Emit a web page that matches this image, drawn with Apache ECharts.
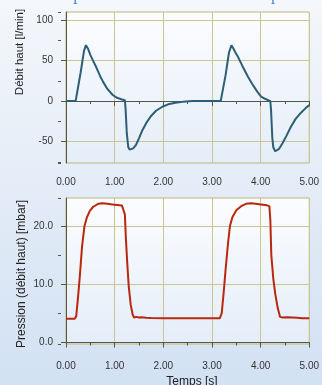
<!DOCTYPE html>
<html>
<head>
<meta charset="utf-8">
<script src="https://cdn.jsdelivr.net/npm/echarts@6/dist/echarts.min.js"></script>
<style>
html, body { margin: 0; padding: 0; }
#chart { width: 322px; height: 385px; background: linear-gradient(#f4f7fb, #d2e1f3); }
</style>
</head>
<body>
<div id="chart"></div>
<script>
// temps (s) et débit (l/min)
var flowTime = [0, 0.1, 0.2, 0.22, 0.3, 0.37, 0.41, 0.45, 0.5, 0.555, 0.62, 0.7, 0.76, 0.85, 0.96, 1.05, 1.15, 1.21,
  1.225, 1.25, 1.28, 1.31, 1.34, 1.38, 1.44, 1.5, 1.57, 1.65, 1.74, 1.85, 1.98, 2.1, 2.25, 2.4, 2.6, 2.8, 3.0, 3.18,
  3.2, 3.28, 3.35, 3.4, 3.44, 3.5, 3.54, 3.62, 3.74, 3.85, 3.95, 4.01, 4.1, 4.2,
  4.215, 4.24, 4.26, 4.3, 4.34, 4.38, 4.45, 4.53, 4.62, 4.72, 4.82, 4.92, 5.0]
var flowValues = [0, 0, 0.5, 1, 35, 62, 69, 65, 57, 50, 42, 31, 24, 15, 7.5, 4, 2, 1,
  -10, -40, -57, -60, -60, -58.5, -54, -46, -36, -27, -19, -12, -7, -4, -2, -1, 0, 0, 0, 0,
  0.5, 32, 60, 69, 65, 58, 54, 44, 30, 19, 10, 5.5, 2.5, 0,
  -12, -45, -57, -62, -62, -59, -52, -43, -32, -22, -15, -9, -5]

// temps (s) et pression (mbar)
var pressTime = [0, 0.18, 0.21, 0.25, 0.29, 0.33, 0.38, 0.43, 0.49, 0.56, 0.66, 0.75, 0.85, 0.95, 1.05, 1.15, 1.19,
  1.21, 1.23, 1.26, 1.29, 1.33, 1.37, 1.4, 1.45, 1.5, 1.55, 1.65, 1.75, 2.0, 2.5, 3.0, 3.16,
  3.2, 3.24, 3.28, 3.33, 3.37, 3.42, 3.5, 3.6, 3.7, 3.8, 3.9, 4.0, 4.1, 4.18,
  4.2, 4.22, 4.26, 4.3, 4.35, 4.4, 4.45, 4.55, 4.65, 4.75, 4.85, 5.0]
var pressValues = [4.1, 4.1, 4.5, 8, 12, 16.5, 20, 21.5, 22.6, 23.3, 23.8, 23.9, 23.8, 23.7, 23.6, 23.5, 23.4,
  22, 18, 13.5, 9.6, 6.5, 4.8, 4.3, 4.4, 4.3, 4.35, 4.25, 4.2, 4.15, 4.15, 4.15, 4.15,
  5, 8.5, 12.5, 17, 20, 21.5, 22.7, 23.4, 23.8, 23.9, 23.8, 23.7, 23.6, 23.4,
  21, 15, 11, 8.4, 6, 4.4, 4.3, 4.35, 4.3, 4.25, 4.15, 4.15]

var flowLabels = [-50, 0, 50, 100]
var flowMinor = [-75, -25, 25, 75]
var pressLabels = [0, 10, 20]
var pressMinor = [5, 15]

var gridCol = '#ccc493'
var axisCol = '#55554a'
var txtCol = '#333'
var font = 'Liberation Sans'

function pairs (t, v) {
  return t.map(function (x, i) { return [x, v[i]] })
}

function plotBg () {
  return new echarts.graphic.LinearGradient(0, 0, 0, 1, [
    { offset: 0, color: '#fcfdff' },
    { offset: 1, color: '#e4edf8' }
  ])
}

function timeAxis (grid, offset) {
  return {
    type: 'value',
    gridIndex: grid,
    min: 0,
    max: 5,
    interval: 1,
    offset: offset,
    axisLine: { show: true, lineStyle: { color: axisCol, width: 1 } },
    axisTick: { show: true, length: 5, lineStyle: { color: axisCol } },
    minorTick: { show: true, splitNumber: 2, length: 3, lineStyle: { color: axisCol } },
    axisLabel: {
      margin: 9,
      fontSize: 10,
      fontFamily: font,
      color: txtCol,
      formatter: function (v) { return v.toFixed(2) }
    },
    splitLine: { show: true, lineStyle: { color: gridCol, width: 1 } }
  }
}

function valueAxis (grid, min, max, labels, digits) {
  return {
    type: 'value',
    gridIndex: grid,
    position: 'left',
    min: min,
    max: max,
    offset: 5,
    axisLine: { show: true, lineStyle: { color: axisCol, width: 1 } },
    axisTick: { show: true, length: 5, customValues: labels, lineStyle: { color: axisCol } },
    axisLabel: {
      customValues: labels,
      margin: 8,
      fontSize: 10,
      fontFamily: font,
      color: txtCol,
      formatter: function (v) { return v.toFixed(digits) }
    },
    splitLine: { show: true, lineStyle: { color: gridCol, width: 1 } }
  }
}

// axe invisible pour les petites graduations
function minorAxis (grid, min, max, ticks) {
  return {
    type: 'value',
    gridIndex: grid,
    position: 'left',
    min: min,
    max: max,
    offset: 5,
    axisLine: { show: false },
    axisTick: { show: true, length: 3, customValues: ticks, lineStyle: { color: axisCol } },
    axisLabel: { show: false },
    splitLine: { show: false }
  }
}

var chart = echarts.init(document.getElementById('chart'))
chart.setOption({
  animation: false,
  grid: [
    { left: 66, top: 12, width: 247, height: 151, show: true, borderColor: '#bdb57f', borderWidth: 1, backgroundColor: plotBg() },
    { left: 66, top: 198, width: 252, height: 146, show: true, borderColor: '#bdb57f', borderWidth: 1, backgroundColor: plotBg() }
  ],
  xAxis: [timeAxis(0, 5), timeAxis(1, 8)],
  yAxis: [
    valueAxis(0, -76.5, 110, flowLabels, 0),
    minorAxis(0, -76.5, 110, flowMinor.concat([-76.5, 110])),
    valueAxis(1, -0.25, 24.8, pressLabels, 1),
    minorAxis(1, -0.25, 24.8, pressMinor.concat([-0.25, 24.8]))
  ],
  graphic: [
    {
      type: 'text', left: -14, top: -13, silent: true,
      style: { text: 'ure 5 : Exemple de courbes de débit et de pression en mode p', fill: '#4a84de', font: '17px "Liberation Serif"' }
    },
    {
      type: 'text', x: 20, y: 52, rotation: Math.PI / 2, silent: true,
      style: { text: 'Débit haut [l/min]', fill: '#222', font: '11.5px "Liberation Sans"', align: 'center', verticalAlign: 'middle' }
    },
    {
      type: 'text', x: 22, y: 274, rotation: Math.PI / 2, silent: true,
      style: { text: 'Pression (débit haut) [mbar]', fill: '#222', font: '12px "Liberation Sans"', align: 'center', verticalAlign: 'middle' }
    },
    {
      type: 'text', x: 192, y: 376, silent: true,
      style: { text: 'Temps [s]', fill: '#222', font: '12px "Liberation Sans"', align: 'center', verticalAlign: 'top' }
    }
  ],
  series: [
    {
      type: 'line',
      xAxisIndex: 0,
      yAxisIndex: 0,
      showSymbol: false,
      lineStyle: { color: '#2c5f76', width: 2 },
      data: pairs(flowTime, flowValues)
    },
    {
      type: 'line',
      xAxisIndex: 1,
      yAxisIndex: 2,
      showSymbol: false,
      lineStyle: { color: '#b8280f', width: 2 },
      data: pairs(pressTime, pressValues)
    }
  ]
})
</script>
</body>
</html>
